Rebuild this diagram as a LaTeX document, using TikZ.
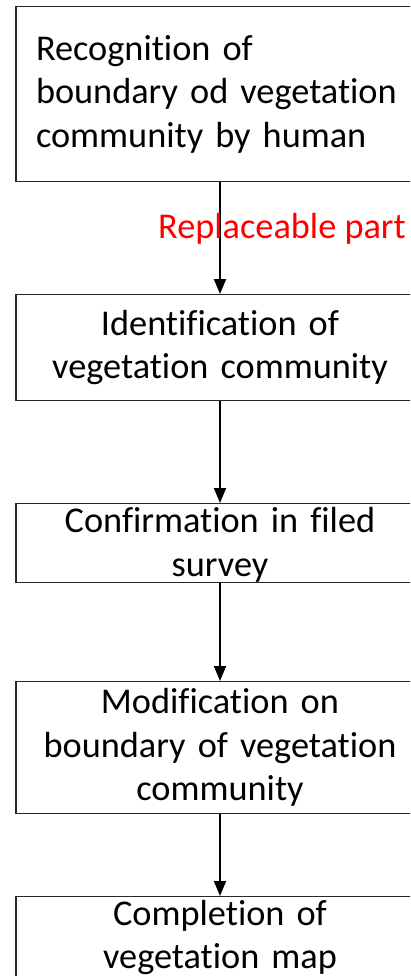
\documentclass[tikz,border=0pt]{standalone}
\usepackage{fontspec}
\setmainfont[Ligatures=NoCommon]{Carlito}
\usepackage{tikz}
\usetikzlibrary{positioning, arrows.meta}
\usepackage{xcolor}
\definecolor{framegray}{RGB}{40, 40, 40}

\begin{document}
\begin{tikzpicture}[x=1pt, y=-1pt, >={Triangle[length=15pt,width=12pt]},
    font=\fontsize{36.3}{43.5}\selectfont,
    box/.style={draw=framegray, line width=1.2pt, minimum width=408pt, text width=368pt,
      inner xsep=20pt, inner ysep=0pt, align=center, anchor=north}]
  \clip (0,0) rectangle (410,976);
  % steps of the mapping procedure
  \node[box, align=left, minimum height=175pt] (recog) at (220,6)
    {Recognition of\\boundary od vegetation\\community by human};
  \node[box, minimum height=106pt] (ident) at (220,294)
    {Identification of\\vegetation community};
  \node[box, text height=29pt, text depth=50pt] (confirm) at (220,503)
    {Confirmation in filed\\survey};
  \node[box, minimum height=132pt] (modif) at (220,681)
    {Modification on\\boundary of vegetation\\community};
  \node[box, minimum height=82pt] (compl) at (220,896)
    {Completion of\\vegetation map};
  % connectors
  \draw[->, line width=2pt] (recog) -- (ident);
  \draw[->, line width=2pt] (ident) -- (confirm);
  \draw[->, line width=2pt] (confirm) -- (modif);
  \draw[->, line width=2pt] (modif) -- (compl);
  \node[red, anchor=base] (repl) at (282,239) {Replaceable part};
\end{tikzpicture}
\end{document}
